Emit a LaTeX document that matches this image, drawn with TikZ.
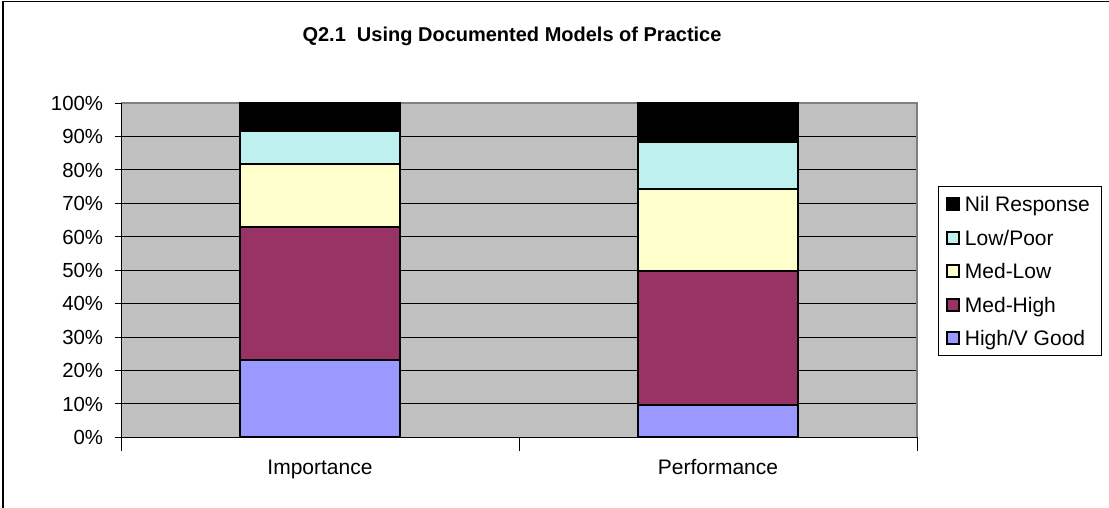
\documentclass[tikz,border=0pt]{standalone}
\usepackage{fontspec}
\setmainfont{Liberation Sans}
\usetikzlibrary{positioning}

\definecolor{plotgray}{RGB}{192,192,192}
\definecolor{plotedge}{RGB}{128,128,128}
\definecolor{highgood}{RGB}{153,153,255}
\definecolor{medhigh}{RGB}{153,51,102}
\definecolor{medlow}{RGB}{255,255,204}
\definecolor{lowpoor}{RGB}{190,240,240}

\begin{document}
\begin{tikzpicture}[x=0.5pt, y=-0.5pt, font=\fontsize{10.5}{12}\selectfont]
    \tikzstyle{segment} = [draw, line width=1pt]
    \tikzstyle{gridline} = [line width=0.5pt]
    \tikzstyle{label} = [inner sep=0pt, text height=7.4pt, text depth=0pt]
    \tikzstyle{swatch} = [draw, line width=1pt, minimum size=6pt, inner sep=0pt]

    \useasboundingbox (0,0) rectangle (1109,508);
    \clip (0,0) rectangle (1109,508);
    \draw[line width=0.8pt] (3,1.5) rectangle (1120,520);

    % title
    \node[label, font=\bfseries\fontsize{10}{12}\selectfont] (title) at (512,34)
        {Q2.1\ \ Using Documented Models of Practice};

    % plot area, y in percent
    \begin{scope}[shift={(0,437.3)}, y=1.6715pt]
        \fill[plotgray] (121,0) rectangle (917,100);
        \foreach \p in {10,20,...,90}
            \draw[gridline] (121,\p) -- (917,\p);
        \draw[plotedge, line width=0.6pt] (121,100) -- (917,100) -- (917,0);

        % stacked bars
        \foreach \lo/\hi/\c in {0/23.1/highgood, 23.1/62.9/medhigh,
                62.9/81.8/medlow, 81.8/91.5/lowpoor, 91.5/100/black}
            \draw[segment, fill=\c] (240,\lo) rectangle (399.5,\hi);
        \foreach \lo/\hi/\c in {0/9.7/highgood, 9.7/49.8/medhigh,
                49.8/74.3/medlow, 74.3/88.2/lowpoor, 88.2/100/black}
            \draw[segment, fill=\c] (638,\lo) rectangle (797.5,\hi);

        % axes
        \draw[gridline] (121,100) -- (121,0) -- (917,0);
        \foreach \p in {0,10,...,100} {
            \draw[gridline] (115,\p) -- (121,\p);
            \node[label, anchor=east, font=\fontsize{10.2}{12}\selectfont] (y\p)
                at (103.5,\p) {\p\%};
        }
        \foreach \x in {121,519,917}
            \draw[gridline] (\x,0) -- (\x,-4.2);
    \end{scope}

    \node[label] (imp) at (320,467.5) {Importance};
    \node[label] (perf) at (718,467.5) {Performance};

    % legend
    \draw[line width=0.5pt] (938.5,187) rectangle (1101.5,355);
    \foreach \c/\t [count=\i] in {black/{Nil Response}, lowpoor/{Low/Poor},
            medlow/{Med-Low}, medhigh/{Med-High}, highgood/{High/V Good}} {
        \node[swatch, fill=\c] (sw\i) at (952.5,{204.3+33.5*(\i-1)}) {};
        \node[label, right=2.5pt of sw\i] (leg\i) {\t};
    }
\end{tikzpicture}
\end{document}
